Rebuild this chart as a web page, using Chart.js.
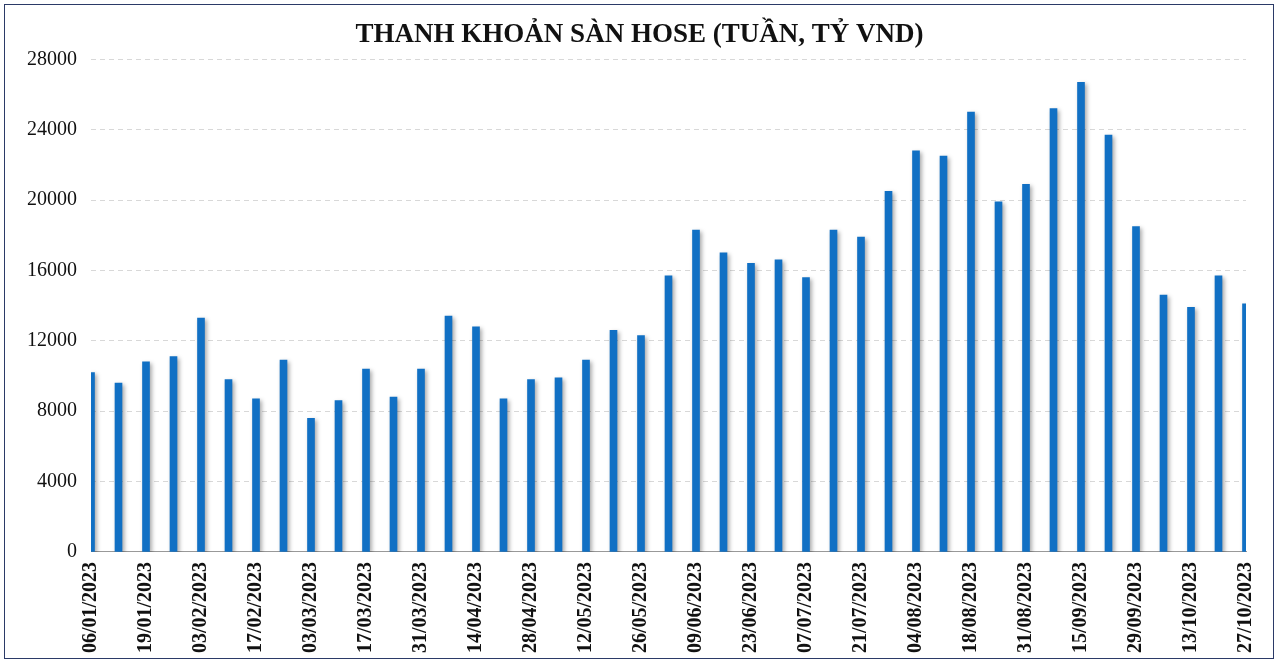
<!DOCTYPE html>
<html>
<head>
<meta charset="utf-8">
<script src="https://cdn.jsdelivr.net/npm/chart.js@4"></script>
<style>
  body { margin: 0; background: #fff; }
  #box { position: absolute; left: 4px; top: 4px; width: 1270px; height: 655px; border: 1.5px solid #2b3a67; box-sizing: border-box; }
</style>
</head>
<body>
<div id="box"><canvas id="c" width="1267" height="652"></canvas></div>
<script>
// weekly dates (only every 2nd one is shown on the axis)
const weeks = ['06/01/2023','13/01/2023','19/01/2023','27/01/2023','03/02/2023','10/02/2023','17/02/2023','24/02/2023',
  '03/03/2023','10/03/2023','17/03/2023','24/03/2023','31/03/2023','07/04/2023','14/04/2023','21/04/2023',
  '28/04/2023','05/05/2023','12/05/2023','19/05/2023','26/05/2023','02/06/2023','09/06/2023','16/06/2023',
  '23/06/2023','30/06/2023','07/07/2023','14/07/2023','21/07/2023','28/07/2023','04/08/2023','11/08/2023',
  '18/08/2023','25/08/2023','31/08/2023','08/09/2023','15/09/2023','22/09/2023','29/09/2023','06/10/2023',
  '13/10/2023','20/10/2023','27/10/2023'];
const liquidity = [10200, 9600, 10800, 11100, 13300, 9800, 8700, 10900, 7600, 8600, 10400, 8800, 10400, 13400,
  12800, 8700, 9800, 9900, 10900, 12600, 12300, 15700, 18300, 17000, 16400, 16600, 15600, 18300, 17900,
  20500, 22800, 22500, 25000, 19900, 20900, 25200, 26700, 23700, 18500, 14600, 13900, 15700, 14100];
const yTicks = [0, 4000, 8000, 12000, 16000, 20000, 24000, 28000];

// shadow behind the bars
const barShadow = {
  id: 'barShadow',
  beforeDatasetsDraw(chart) {
    const ctx = chart.ctx;
    ctx.save();
    ctx.shadowColor = 'rgba(0,0,0,0.35)';
    ctx.shadowBlur = 4;
    ctx.shadowOffsetX = 2;
    ctx.shadowOffsetY = 2;
  },
  afterDatasetsDraw(chart) { chart.ctx.restore(); }
};

const serif = 'Liberation Serif';
new Chart(document.getElementById('c'), {
  type: 'bar',
  data: {
    labels: weeks,
    datasets: [{ data: liquidity, backgroundColor: '#1170c4', barThickness: 7 }]
  },
  options: {
    responsive: false,
    animation: false,
    devicePixelRatio: 1,
    layout: { padding: { left: 8, right: 6, top: 8, bottom: 2 } },
    plugins: {
      legend: { display: false },
      tooltip: { enabled: false },
      title: { display: true, text: 'THANH KHOẢN SÀN HOSE (TUẦN, TỶ VND)', color: '#111',
        font: { family: serif, size: 27, weight: 'bold' }, padding: { top: 6, bottom: 8 } }
    },
    scales: {
      x: {
        offset: false,
        grid: { display: false },
        border: { color: '#999' },
        ticks: {
          autoSkip: false, maxRotation: 90, minRotation: 90, color: '#111', padding: 2,
          font: { family: serif, size: 20, weight: 'bold' },
          callback: (v, i) => i % 2 === 0 ? weeks[i] : ''
        }
      },
      y: {
        min: 0, max: 28000,
        afterBuildTicks: ax => { ax.ticks = yTicks.map(v => ({ value: v })); },
        grid: { color: '#d8d8d8', drawTicks: false },
        border: { display: false, dash: [5, 4] },
        ticks: { color: '#111', padding: 14, font: { family: serif, size: 20 }, callback: v => String(v) }
      }
    }
  },
  plugins: [barShadow]
});
</script>
</body>
</html>
